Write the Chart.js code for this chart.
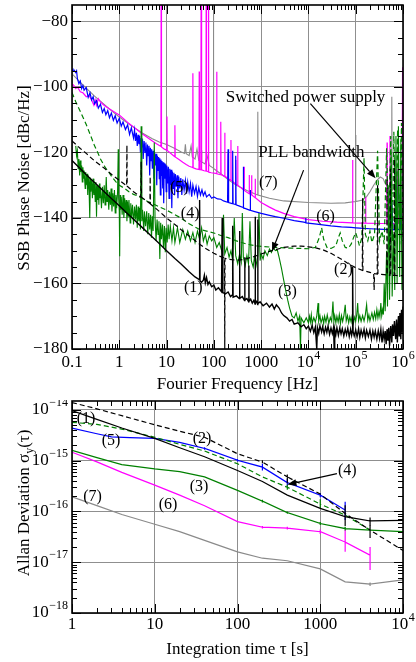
<!DOCTYPE html>
<html>
<head>
<meta charset="utf-8">
<script src="https://cdn.jsdelivr.net/npm/chart.js@4.4.1/dist/chart.umd.min.js"></script>
<style>
  body { margin: 0; background: #fff; }
  #wrap { position: relative; width: 416px; height: 662px; }
  canvas { position: absolute; left: 0; }
</style>
</head>
<body>
<div id="wrap">
  <canvas id="chart1" width="416" height="400" style="top:0"></canvas>
  <canvas id="chart2" width="416" height="262" style="top:400px"></canvas>
</div>
<script>
// ---------- phase noise data, [frequency Hz, dBc/Hz] ----------
const pn1 = [[0.1,-122.5],[0.15,-125],[0.2,-126.8],[0.3,-129.2],[0.5,-132.2],[0.7,-134.2],[1,-136.3],[1.5,-138.7],[2,-140.4],[3,-142.8],[5,-145.8],[7,-147.8],[10,-150],[15,-152.4],[20,-154],[30,-156.4],[40,-158],[49,-158.8],[50,-134.5],[51,-159.2],[55,-159.6],[60,-159],[63,-157.5],[66,-159.8],[70,-158.2],[75,-160.3],[80,-159.5],[90,-161],[100,-160.5],[110,-162],[125,-161.3],[145,-162.5],[150,-140],[155,-162.8],[175,-163.2],[200,-162.6],[225,-164],[245,-163.5],[250,-142.4],[255,-164.2],[300,-163.8],[345,-164.6],[350,-144],[355,-164.5],[400,-164],[445,-165.2],[450,-152],[455,-165],[500,-164.6],[545,-165.6],[550,-154.5],[555,-165.4],[600,-164.8],[650,-166],[700,-165.2],[745,-166.3],[750,-139.6],[755,-166],[800,-165.5],[845,-166.4],[850,-140.5],[855,-166.2],[950,-165.6],[1100,-166.8],[1300,-166],[1500,-167.2],[1700,-166.3],[1900,-167.8],[2100,-166.5],[2400,-167.5],[2700,-169],[3000,-169.8],[3500,-170.5],[4000,-171.5],[4500,-171],[5000,-172.4],[6000,-172],[7000,-173.2],[8000,-172.6],[9000,-173.8],[1e4,-173],[1.1e4,-174.6],[1.2e4,-172.8],[1.3e4,-175],[1.4e4,-173.3],[1.5e4,-180],[1.55e4,-173.5],[1.65e4,-175.2],[1.75e4,-172.9],[1.9e4,-174.8],[2e4,-173.2],[2.15e4,-175.4],[2.3e4,-173.4],[2.45e4,-174.9],[2.6e4,-173],[2.8e4,-175.5],[3e4,-173.6],[3.2e4,-175.3],[3.4e4,-173.4],[3.5e4,-180],[3.6e4,-174],[3.8e4,-175.6],[4e4,-173.5],[4.3e4,-175.8],[4.6e4,-173.6],[4.9e4,-175.4],[5.2e4,-173.8],[5.6e4,-176],[6e4,-174],[6.4e4,-175.6],[6.8e4,-173.7],[7.3e4,-176.2],[7.8e4,-174],[8.2e4,-175.8],[8.5e4,-174.5],[8.6e4,-155],[8.8e4,-174.6],[9.3e4,-176],[1e5,-174.2],[1.07e5,-176.3],[1.15e5,-173.8],[1.22e5,-176.5],[1.3e5,-174.2],[1.4e5,-176],[1.5e5,-174],[1.6e5,-176.6],[1.7e5,-174.3],[1.85e5,-176.2],[2e5,-174.2],[2.15e5,-177],[2.3e5,-174.5],[2.45e5,-176.4],[2.6e5,-174.5],[2.8e5,-177],[3e5,-174.4],[3.2e5,-176.8],[3.4e5,-174],[3.6e5,-178],[3.8e5,-174.6],[4e5,-177],[4.2e5,-174.5],[4.4e5,-178.5],[4.6e5,-174],[4.8e5,-177.5],[5e5,-173.5],[5.2e5,-179],[5.5e5,-173],[5.8e5,-178],[6e5,-172.5],[6.3e5,-176],[6.6e5,-171.5],[7e5,-177],[7.3e5,-171],[7.6e5,-178],[8e5,-170],[8.3e5,-176],[8.6e5,-169],[9e5,-177],[9.3e5,-168],[9.6e5,-175],[1e6,-167]];

const pn2 = [[0.1,-116.5],[0.15,-118.8],[0.2,-120.3],[0.3,-122.6],[0.5,-125],[0.7,-126.8],[1,-128.5],[1.43,-130.2],[1.45,-117.8],[1.47,-130.3],[2,-132],[2.85,-133.6],[2.9,-122.8],[2.95,-133.7],[4.45,-135.6],[4.5,-127.4],[4.55,-135.7],[7,-138],[10,-140],[15,-142],[20,-143.5],[30,-145.5],[50,-148],[70,-149.5],[100,-150.8],[140,-151.8],[168,-152.2],[170,-180],[172,-152.3],[200,-152.6],[300,-152.9],[400,-152.7],[500,-152.4],[700,-151.8],[1000,-151],[1500,-150.2],[2000,-149.7],[3000,-149],[5000,-148.6],[7000,-148.6],[1e4,-148.8],[1.5e4,-149.2],[2e4,-149.7],[3e4,-150.8],[5e4,-152.6],[7e4,-154],[1e5,-155.2],[1.38e5,-156],[1.4e5,-134],[1.42e5,-156],[2e5,-156.6],[2.4e5,-157],[2.45e5,-162],[2.5e5,-157],[2.85e5,-157.1],[2.9e5,-130],[2.95e5,-157.1],[4e5,-157.3],[4.55e5,-157.4],[4.6e5,-128],[4.65e5,-157.4],[5.3e5,-157.5],[5.4e5,-125],[5.5e5,-157.5],[6.5e5,-157.5],[6.6e5,-122],[6.7e5,-157.5],[8e5,-157.6],[1e6,-157.6]];

const pn3 = [[0.12,-118],[0.125,-121],[0.13,-119.5],[0.135,-125],[0.14,-122],[0.145,-127],[0.15,-122.5],[0.155,-126],[0.16,-124],[0.165,-129],[0.17,-124.5],[0.175,-128],[0.18,-125.5],[0.19,-131],[0.195,-126],[0.2,-130],[0.21,-126.5],[0.215,-133],[0.22,-127],[0.23,-131.5],[0.235,-127.5],[0.24,-140],[0.245,-128],[0.25,-132],[0.26,-128.5],[0.27,-134],[0.28,-128],[0.29,-133],[0.3,-129.5],[0.31,-135],[0.32,-129],[0.33,-139.6],[0.34,-130],[0.35,-134.5],[0.36,-130.5],[0.37,-136],[0.38,-129.5],[0.39,-134],[0.4,-131],[0.42,-137],[0.44,-130.5],[0.46,-135.5],[0.48,-130],[0.5,-136],[0.52,-131],[0.53,-127.5],[0.55,-135],[0.57,-131.5],[0.6,-137.5],[0.62,-132],[0.65,-136],[0.67,-131],[0.7,-138],[0.73,-132.5],[0.76,-136.5],[0.79,-131.5],[0.82,-138.5],[0.85,-133],[0.88,-137],[0.92,-132],[0.95,-119],[0.97,-134],[1,-138],[1.02,-151.7],[1.04,-133],[1.07,-137.5],[1.1,-133.5],[1.15,-139],[1.2,-133],[1.25,-140],[1.3,-134],[1.35,-138.5],[1.4,-134.5],[1.45,-141],[1.5,-135],[1.55,-139.5],[1.6,-134.5],[1.7,-141.5],[1.75,-135.5],[1.8,-140],[1.9,-136],[2,-142],[2.1,-136.5],[2.2,-140.5],[2.3,-136],[2.4,-143],[2.5,-136.5],[2.6,-141],[2.7,-137],[2.8,-143.5],[2.9,-112],[3,-141],[3.1,-137.5],[3.3,-144],[3.4,-138],[3.6,-142.5],[3.8,-138],[4,-145],[4.2,-138.5],[4.4,-143.5],[4.6,-139],[4.8,-146],[5,-139.5],[5.2,-144],[5.5,-117],[5.7,-140],[6,-147],[6.3,-140.5],[6.6,-145],[6.9,-141],[7.2,-152.5],[7.5,-141.5],[7.8,-146.5],[8.2,-142],[8.6,-149],[9,-142.5],[9.4,-150.5],[9.8,-143],[10.3,-147.5],[10.8,-142],[11.3,-146.5],[12,-142.5],[13,-147],[14,-143],[15,-147.5],[17,-143],[19,-147.5],[22,-143.5],[25,-146.5],[28,-144],[32,-147],[36,-144.5],[40,-147.5],[45,-144],[50,-146.5],[55,-143],[60,-147],[66,-145],[72,-148],[80,-145.5],[90,-147],[100,-146],[115,-149],[130,-147.5],[150,-150.5],[160,-139],[170,-151],[190,-149],[210,-152],[230,-150],[250,-153],[270,-140],[290,-151.5],[320,-154],[350,-151],[380,-153.5],[400,-138.5],[420,-152],[460,-154.5],[500,-151.5],[540,-154],[580,-141],[620,-153],[680,-155],[720,-152],[780,-154.5],[850,-151.5],[900,-138.5],[950,-153],[1000,-151],[1100,-152.5],[1200,-150],[1350,-151.5],[1500,-149.5],[1650,-150.5],[1800,-149],[2000,-150],[2200,-149.8],[2400,-152],[2700,-155.5],[3000,-159],[3300,-162],[3700,-165.5],[4000,-167.5],[4500,-170],[5000,-170.5],[5500,-169],[6000,-171.5],[6500,-170],[6800,-180],[7000,-170.5],[8000,-172],[9000,-170.5],[1e4,-172],[1.05e4,-170],[1.1e4,-171.8],[1.15e4,-169.5],[1.2e4,-172.2],[1.3e4,-170.4],[1.4e4,-171.8],[1.5e4,-170],[1.6e4,-166],[1.65e4,-171.5],[1.75e4,-169.8],[1.85e4,-172],[2e4,-170.3],[2.1e4,-172.3],[2.2e4,-170],[2.35e4,-171.8],[2.5e4,-169.6],[2.7e4,-172.2],[2.9e4,-170.4],[3.1e4,-171.6],[3.3e4,-165.5],[3.45e4,-171.5],[3.6e4,-169.8],[3.8e4,-172],[4e4,-170],[4.25e4,-171.8],[4.5e4,-169.5],[4.75e4,-172.3],[5e4,-169.8],[5.3e4,-171.6],[5.6e4,-170],[6e4,-166.5],[6.3e4,-171.4],[6.7e4,-169.8],[7.1e4,-172],[7.5e4,-170.2],[8e4,-171.8],[8.5e4,-169.5],[9e4,-172],[9.5e4,-170.3],[1e5,-171.5],[1.05e5,-169.5],[1.1e5,-166],[1.15e5,-171.4],[1.22e5,-169.8],[1.3e5,-171.6],[1.4e5,-169.8],[1.5e5,-171.5],[1.6e5,-169.5],[1.7e5,-166.5],[1.8e5,-171.2],[1.9e5,-169.6],[2e5,-171.4],[2.2e5,-169],[2.35e5,-171],[2.5e5,-168.8],[2.65e5,-170.8],[2.8e5,-168],[2.95e5,-170.5],[3.1e5,-168.6],[3.25e5,-170.2],[3.4e5,-166],[3.55e5,-169.8],[3.7e5,-168],[3.85e5,-169.5],[4e5,-160],[4.2e5,-168.5],[4.5e5,-150],[4.7e5,-167],[5e5,-130],[5.2e5,-165],[5.6e5,-120],[5.9e5,-164],[6.3e5,-145],[6.7e5,-162],[7.1e5,-115],[7.5e5,-160],[8e5,-112],[8.5e5,-158],[9e5,-116],[9.5e5,-162],[1e6,-150]];

const pn4 = [[0.1,-101.7],[0.12,-104.5],[0.15,-107.5],[0.18,-110],[0.2,-111.5],[0.25,-115],[0.3,-118],[0.35,-120],[0.4,-122],[0.5,-124.5],[0.6,-126],[0.7,-127.5],[0.85,-129],[1,-130],[1.3,-131],[1.6,-132],[2,-132.8],[2.5,-133.3],[3,-134],[4,-135],[5,-135.6],[7,-136.6],[10,-137.6],[15,-139],[20,-140],[30,-141.8],[50,-143.5],[70,-144],[100,-144.6],[150,-145.5],[200,-146],[300,-147],[500,-148],[700,-148.4],[1000,-148.7],[2000,-149],[4000,-149.2],[7000,-149.3],[1e4,-149.4],[1.4e4,-149],[1.7e4,-146],[1.9e4,-143],[2.1e4,-146.5],[2.5e4,-149.2],[3e4,-149.3],[3.8e4,-148.5],[4.3e4,-146],[4.7e4,-144.6],[5.2e4,-147],[6e4,-149],[7e4,-149.2],[8e4,-148],[9e4,-146],[1e5,-144.5],[1.1e5,-146.5],[1.2e5,-148.5],[1.35e5,-146],[1.5e5,-121.7],[1.6e5,-145],[1.8e5,-147],[2e5,-144],[2.2e5,-147.5],[2.5e5,-145],[2.9e5,-119.5],[3.2e5,-147],[3.6e5,-144],[4e5,-148],[4.5e5,-118.7],[5e5,-146],[5.5e5,-115],[6e5,-147],[6.4e5,-113.7],[7e5,-146],[7.7e5,-113],[8.5e5,-148],[9.3e5,-111],[1e6,-147]];

const pn5 = [[0.1,-94.5],[0.105,-95.3],[0.11,-94.8],[0.12,-95.6],[0.125,-95.1],[0.13,-97.5],[0.14,-99],[0.15,-98.2],[0.16,-100.5],[0.17,-99.6],[0.18,-101],[0.2,-100.2],[0.22,-103.2],[0.24,-101.8],[0.26,-104],[0.28,-103],[0.3,-105.2],[0.33,-104.2],[0.36,-106.5],[0.4,-105.3],[0.44,-107.8],[0.48,-106.6],[0.52,-108.5],[0.57,-107.2],[0.62,-109.4],[0.68,-108],[0.75,-110.2],[0.82,-108.8],[0.9,-111],[1,-109.6],[1.1,-112],[1.2,-110.7],[1.35,-113],[1.5,-111.6],[1.65,-114.5],[1.8,-112.5],[2,-115.6],[2.1,-113.2],[2.2,-116.5],[2.3,-114],[2.4,-118],[2.5,-114.6],[2.6,-117.5],[2.7,-115],[2.8,-120],[2.9,-115.6],[3,-118.5],[3.1,-116],[3.2,-122],[3.35,-116.5],[3.5,-120],[3.65,-117],[3.8,-124],[3.95,-117.6],[4.1,-121],[4.25,-118],[4.4,-127],[4.55,-118.6],[4.7,-122.5],[4.85,-119],[5,-125],[5.2,-119.5],[5.4,-128],[5.6,-120],[5.8,-124],[6,-120.4],[6.2,-130],[6.4,-121],[6.6,-125.5],[6.8,-121.4],[7,-128],[7.2,-121.8],[7.4,-133],[7.6,-122.2],[7.8,-127],[8,-122.6],[8.3,-131],[8.5,-123],[8.7,-135.5],[8.9,-123.3],[9.2,-128],[9.5,-123.6],[9.8,-132],[10.1,-124],[10.5,-129.5],[10.9,-124.4],[11.3,-134],[11.7,-125],[12.1,-130],[12.5,-125.3],[12.9,-137],[13.3,-125.8],[13.8,-131],[14.3,-126.2],[14.8,-133],[15.3,-126.6],[16,-130.5],[16.7,-127],[17.4,-134],[18.1,-127.4],[19,-131],[20,-127.8],[21,-133],[22,-128.2],[23.5,-131.5],[25,-128.6],[26.5,-132.6],[28,-129],[30,-132],[32,-129.5],[34,-133.5],[36,-130],[39,-132.5],[42,-130.4],[45,-133.4],[48,-130.8],[52,-133],[56,-131.4],[60,-133.2],[65,-132],[70,-133.6],[80,-132.8],[90,-134],[100,-133.6],[120,-134.2],[140,-134.3],[160,-134.8],[195,-135.2],[200,-119],[205,-135.3],[245,-135.6],[250,-119.5],[255,-135.7],[285,-135.9],[290,-121],[295,-136],[350,-136.4],[415,-136.8],[420,-124.4],[425,-136.9],[500,-137.3],[585,-137.7],[590,-131.5],[595,-137.7],[700,-138],[1000,-138.6],[1500,-139.2],[2000,-139.6],[3000,-140.1],[5000,-140.8],[8000,-141.3],[8700,-141.4],[8800,-140],[8900,-141.5],[1.5e4,-141.9],[2e4,-142.1],[3e4,-142.4],[5e4,-142.7],[8e4,-142.9],[1e5,-143],[1.5e5,-143.2],[2e5,-143.3],[3e5,-143.4],[4e5,-143.5],[5e5,-143.6],[5.5e5,-143.6],[5.8e5,-135],[6.1e5,-143.6],[7e5,-143.5],[7.3e5,-130],[7.6e5,-143.5],[8.5e5,-143.5],[8.8e5,-132],[9.1e5,-143.5],[1e6,-143.4]];

const pn6 = [[0.1,-99],[0.11,-99.6],[0.12,-100.5],[0.13,-100],[0.15,-101.5],[0.17,-101.8],[0.2,-103],[0.23,-102.6],[0.26,-104],[0.29,-105.6],[0.31,-104],[0.33,-105.6],[0.36,-103.6],[0.4,-104.6],[0.45,-105.3],[0.5,-105.8],[0.6,-106.6],[0.7,-107.2],[0.85,-108],[1,-108.6],[1.3,-110],[1.6,-111.2],[2,-112.2],[2.5,-113.3],[3,-114.2],[4,-115.5],[5,-116.5],[6,-117.3],[7.6,-118.2],[7.7,-60],[7.8,-118.3],[9,-119],[10.1,-119.3],[10.2,-109],[10.3,-119.4],[12,-120.2],[14.8,-121.3],[15,-111.7],[15.2,-121.4],[18,-122.1],[22,-123],[26,-123.7],[30,-124.2],[35.5,-124.6],[36,-95.8],[36.5,-124.7],[42,-125],[48.5,-125.2],[49,-95.3],[49.5,-125.2],[53,-125.3],[54,-60],[55,-125.3],[62,-125.6],[68,-125.7],[69,-60],[70,-125.7],[76,-125.9],[77,-60],[78,-126],[88,-126.2],[110,-126.4],[114,-126.5],[115,-95.4],[116,-126.5],[138,-126.8],[140,-110.6],[142,-126.8],[168,-127.3],[170,-114],[172,-127.3],[198,-127.9],[200,-120.3],[202,-128],[228,-128.5],[230,-116.2],[232,-128.5],[288,-129.6],[290,-122.3],[292,-129.6],[318,-130],[320,-118],[322,-130],[438,-131.6],[440,-124.4],[442,-131.6],[555,-132.6],[560,-126.9],[565,-132.6],[625,-133],[630,-127],[635,-133],[745,-133.8],[750,-128],[755,-133.8],[1000,-135.3],[1500,-136.7],[2000,-137.6],[3000,-138.6],[5000,-139.6],[1e4,-140.5],[2e4,-141],[4e4,-141.3],[8.5e4,-141.5],[8.6e4,-122.3],[8.7e4,-141.5],[1.2e5,-141.6],[1.6e5,-141.6],[1.62e5,-133.5],[1.64e5,-141.6],[3e5,-141.7],[4.55e5,-141.7],[4.6e5,-117],[4.65e5,-141.7],[5.25e5,-141.7],[5.3e5,-115],[5.35e5,-141.7],[7e5,-141.7],[7.5e5,-125],[8e5,-141.7],[9.5e5,-141.7],[9.8e5,-94],[1e6,-110]];

const pn7 = [[0.1,-96],[0.15,-98.6],[0.2,-100.4],[0.3,-102.8],[0.5,-105.6],[0.7,-107.4],[1,-109.2],[1.5,-111],[2,-112.3],[3,-114],[5,-115.8],[7,-116.8],[10,-117.6],[15,-118.8],[20,-119.8],[24,-120.3],[25,-117.5],[26,-120.4],[30,-121],[33,-118],[35,-121.4],[40,-122],[44,-119],[48,-122.4],[54,-122.8],[55,-119.3],[56,-122.9],[65,-123.5],[72,-121],[80,-124],[97,-124.8],[98,-60],[99,-124.9],[120,-125.8],[150,-126.8],[200,-128.3],[300,-130],[500,-131.6],[840,-133],[850,-107.6],[860,-133],[1500,-134],[3000,-134.8],[1e4,-135.3],[3e4,-135.5],[6e4,-135.4],[9.9e4,-135],[1e5,-114.7],[1.01e5,-135],[1.4e5,-134.5],[1.7e5,-133.5],[2e5,-132],[2.4e5,-130],[2.8e5,-128.5],[3.3e5,-127.5],[3.8e5,-128],[4.2e5,-129.5],[5e5,-131],[5.7e5,-131.5],[5.8e5,-103],[5.9e5,-131.5],[7e5,-131],[8e5,-130],[1e6,-129]];

// ---------- Allan deviation data, [tau s, sigma] (repeated tau = error bar) ----------
const ad1 = [[1,9.7e-15],[2,6.5e-15],[4,4.4e-15],[10,2.75e-15],[20,1.8e-15],[40,1.2e-15],[100,6.4e-16],[200,3.9e-16],[400,2.1e-16],[1000,1.15e-16],[2000,7.9e-17],[2000,1.32e-16],[2000,5.2e-17],[2000,7.9e-17],[4000,6.5e-17],[4000,7.6e-17],[4000,5.2e-17],[4000,6.5e-17],[10000,6.7e-17]];
const ad2 = [[1,1.4e-14],[2,1.05e-14],[4,7.7e-15],[10,5.1e-15],[20,3.8e-15],[40,2.9e-15],[100,1.37e-15],[200,9.4e-16],[200,1.02e-15],[200,8.8e-16],[200,9.4e-16],[400,4.8e-16],[400,5.6e-16],[400,3.6e-16],[400,4.8e-16],[1000,2.2e-16],[2000,9.1e-17],[4000,4.3e-17],[4000,5.5e-17],[4000,3.0e-17],[4000,4.3e-17],[10000,1.7e-17]];
const ad3 = [[1,1.6e-15],[2,1.15e-15],[4,8.4e-16],[10,6.9e-16],[20,6.1e-16],[40,4.8e-16],[100,2.6e-16],[200,1.6e-16],[200,1.7e-16],[200,1.5e-16],[200,1.6e-16],[400,9.5e-17],[400,1.0e-16],[400,9e-17],[400,9.5e-17],[1000,5.8e-17],[1000,6.2e-17],[1000,5.4e-17],[1000,5.8e-17],[2000,4.6e-17],[2000,5.0e-17],[2000,4.2e-17],[2000,4.6e-17],[4000,4.3e-17],[10000,4e-17]];
const ad4 = [[1,5.7e-15],[2,5.2e-15],[4,4.2e-15],[10,2.9e-15],[20,2.1e-15],[40,1.55e-15],[100,8.7e-16],[200,4.8e-16],[400,3.0e-16],[400,3.6e-16],[400,2.5e-16],[400,3e-16],[1000,1.4e-16],[1000,1.75e-16],[1000,1.1e-16],[1000,1.4e-16],[2000,8.5e-17],[4000,4.3e-17]];
const ad5 = [[1,4.4e-15],[2,3.4e-15],[3,2.95e-15],[5,2.85e-15],[10,2.75e-15],[20,2.3e-15],[40,1.75e-15],[40,1.85e-15],[40,1.65e-15],[40,1.75e-15],[100,1.02e-15],[100,1.08e-15],[100,9.6e-16],[100,1.02e-15],[200,7.5e-16],[200,8.7e-16],[200,6.4e-16],[200,7.5e-16],[400,3.7e-16],[400,4.4e-16],[400,3.1e-16],[400,3.7e-16],[1000,2.1e-16],[1000,2.3e-16],[1000,1.9e-16],[1000,2.1e-16],[2000,1.07e-16],[2000,1.55e-16],[2000,6.8e-17],[2000,1.07e-16]];
const ad6 = [[1,1.47e-15],[2,9.5e-16],[4,5.9e-16],[10,3.3e-16],[20,2.1e-16],[40,1.3e-16],[100,6.3e-17],[200,4.9e-17],[200,5.2e-17],[200,4.6e-17],[200,4.9e-17],[400,4.7e-17],[400,5.0e-17],[400,4.4e-17],[400,4.7e-17],[1000,4.0e-17],[1000,4.4e-17],[1000,3.6e-17],[1000,4.0e-17],[2000,2.5e-17],[2000,4.3e-17],[2000,1.6e-17],[2000,2.5e-17],[4000,1.38e-17],[4000,2.0e-17],[4000,7e-18],[4000,1.38e-17]];
const ad7 = [[1,1.94e-16],[2,1.3e-16],[4,8.7e-17],[10,5.6e-17],[20,4e-17],[40,2.7e-17],[100,1.6e-17],[200,1.2e-17],[400,1.07e-17],[1000,7.4e-18],[2000,4.1e-18],[4000,3.7e-18],[4000,4.0e-18],[4000,3.4e-18],[4000,3.7e-18],[10000,4.5e-18]];

// ---------- axes ----------
const xTopTicks = [0.1, 1, 10, 100, 1000, 1e4, 1e5, 1e6];
const xTopLabels = ['0.1', '1', '10', '100', '1000', '10^4', '10^5', '10^6'];
const yTopTicks = [-180, -160, -140, -120, -100, -80];
const yTopLabels = ['\u2212180', '\u2212160', '\u2212140', '\u2212120', '\u2212100', '\u221280'];
const xBotTicks = [1, 10, 100, 1000, 1e4];
const xBotLabels = ['1', '10', '100', '1000', '10^4'];
const yBotTicks = [1e-18, 1e-17, 1e-16, 1e-15, 1e-14];
const yBotLabels = ['10^\u221218', '10^\u221217', '10^\u221216', '10^\u221215', '10^\u221214'];

const topNotes = [
  { t: '(1)', x: 36.6, y: -161.3 }, { t: '(2)', x: 5.5e4, y: -155.8 },
  { t: '(3)', x: 3590, y: -162.5 }, { t: '(4)', x: 31.6, y: -138.8 },
  { t: '(5)', x: 18.5, y: -130.8 }, { t: '(6)', x: 2.3e4, y: -139.7 },
  { t: '(7)', x: 1420, y: -129.3 },
  { t: 'Switched power supply', x: 8.7e3, y: -103.1 },
  { t: 'PLL bandwidth', x: 1.15e4, y: -119.9 }
];
const topArrows = [
  { from: [1.1e4, -105.1], to: [2.63e5, -127.9] },
  { from: [7.9e3, -125.4], to: [1.7e3, -150.2] }
];
const botNotes = [
  { t: '(1)', x: 1.48, y: 6.6e-15 }, { t: '(2)', x: 37.3, y: 2.7e-15 },
  { t: '(3)', x: 34.3, y: 3.1e-16 }, { t: '(4)', x: 2120, y: 6.4e-16 },
  { t: '(5)', x: 2.96, y: 2.5e-15 }, { t: '(6)', x: 14.5, y: 1.38e-16 },
  { t: '(7)', x: 1.77, y: 1.95e-16 }
];
const botArrows = [{ from: [1590, 5.56e-16], to: [401, 3.4e-16] }];

const serif = '"Liberation Serif", "Times New Roman", serif';
const BLUE = '#0000ff', MAGENTA = '#ff00ff', GREEN = '#008000', GRAY = '#8a8a8a';

function line(data, color, dashed, width) {
  return {
    data: data, borderColor: color, borderWidth: width || 1,
    borderDash: dashed ? [5, 3] : [], pointRadius: 0, tension: 0, fill: false
  };
}

function decadeMinor(lo, hi) {
  const out = [];
  for (let d = lo; d < hi * 0.999; d *= 10) {
    for (let m = 2; m <= 9; m++) if (d * m <= hi) out.push(d * m);
  }
  return out;
}

function drawPow(ctx, text, x, y, align) {
  const parts = text.split('^');
  ctx.font = '17px ' + serif;
  const wb = ctx.measureText(parts[0]).width;
  let we = 0;
  if (parts[1]) { ctx.font = '12px ' + serif; we = ctx.measureText(parts[1]).width + 0.5; }
  const x0 = align === 'right' ? x - wb - we : x - (wb + we) / 2;
  ctx.textAlign = 'left';
  ctx.textBaseline = 'middle';
  ctx.font = '17px ' + serif;
  ctx.fillText(parts[0], x0, y);
  if (parts[1]) { ctx.font = '12px ' + serif; ctx.fillText(parts[1], x0 + wb + 0.5, y - 7); }
}

function arrow(ctx, x1, y1, x2, y2) {
  const ang = Math.atan2(y2 - y1, x2 - x1);
  const hl = 9, hw = 3.5;
  ctx.beginPath();
  ctx.moveTo(x1, y1);
  ctx.lineTo(x2 - hl * Math.cos(ang), y2 - hl * Math.sin(ang));
  ctx.lineWidth = 1.2;
  ctx.stroke();
  ctx.beginPath();
  ctx.moveTo(x2, y2);
  ctx.lineTo(x2 - hl * Math.cos(ang) + hw * Math.sin(ang), y2 - hl * Math.sin(ang) - hw * Math.cos(ang));
  ctx.lineTo(x2 - hl * Math.cos(ang) - hw * Math.sin(ang), y2 - hl * Math.sin(ang) + hw * Math.cos(ang));
  ctx.closePath();
  ctx.fill();
}

// frame, inward ticks, tick labels, notes
function decorate(opts) {
  return {
    id: 'decorate',
    afterDraw(chart) {
      const { ctx, chartArea: a } = chart;
      const xs = chart.scales.x, ys = chart.scales.y;
      ctx.save();
      ctx.strokeStyle = '#000';
      ctx.fillStyle = '#000';
      ctx.lineWidth = 1;
      ctx.beginPath();
      opts.xMinor.forEach(v => {
        const px = Math.round(xs.getPixelForValue(v)) + 0.5;
        ctx.moveTo(px, a.bottom); ctx.lineTo(px, a.bottom - 5);
        ctx.moveTo(px, a.top); ctx.lineTo(px, a.top + 5);
      });
      opts.xTicks.forEach(v => {
        const px = Math.round(xs.getPixelForValue(v)) + 0.5;
        ctx.moveTo(px, a.bottom); ctx.lineTo(px, a.bottom - 9);
        ctx.moveTo(px, a.top); ctx.lineTo(px, a.top + 9);
      });
      opts.yMinor.forEach(v => {
        const py = Math.round(ys.getPixelForValue(v)) + 0.5;
        ctx.moveTo(a.left, py); ctx.lineTo(a.left + 5, py);
        ctx.moveTo(a.right, py); ctx.lineTo(a.right - 5, py);
      });
      opts.yTicks.forEach(v => {
        const py = Math.round(ys.getPixelForValue(v)) + 0.5;
        ctx.moveTo(a.left, py); ctx.lineTo(a.left + 9, py);
        ctx.moveTo(a.right, py); ctx.lineTo(a.right - 9, py);
      });
      ctx.stroke();
      ctx.lineWidth = 1.6;
      ctx.strokeRect(a.left, a.top, a.right - a.left, a.bottom - a.top);

      opts.xTicks.forEach((v, i) => drawPow(ctx, opts.xLabels[i], xs.getPixelForValue(v), a.bottom + opts.xLabelGap, 'center'));
      opts.yTicks.forEach((v, i) => drawPow(ctx, opts.yLabels[i], a.left - 4, ys.getPixelForValue(v), 'right'));

      ctx.font = '17px ' + serif;
      ctx.textAlign = 'center';
      ctx.textBaseline = 'middle';
      ctx.fillText(opts.xTitle, (a.left + a.right) / 2, a.bottom + opts.xTitleGap);
      ctx.save();
      ctx.translate(25, opts.yTitleY);
      ctx.rotate(-Math.PI / 2);
      opts.yTitle(ctx);
      ctx.restore();

      opts.notes.forEach(n => {
        ctx.font = (n.t.length > 3 ? '17px ' : '16px ') + serif;
        ctx.textAlign = 'center';
        ctx.textBaseline = 'middle';
        ctx.fillText(n.t, xs.getPixelForValue(n.x), ys.getPixelForValue(n.y));
      });
      opts.arrows.forEach(ar => arrow(ctx,
        xs.getPixelForValue(ar.from[0]), ys.getPixelForValue(ar.from[1]),
        xs.getPixelForValue(ar.to[0]), ys.getPixelForValue(ar.to[1])));
      ctx.restore();
    }
  };
}

function axis(type, min, max, ticks, fitKey) {
  return {
    type: type, min: min, max: max,
    afterBuildTicks: s => { s.ticks = ticks.map(v => ({ value: v })); },
    afterFit: s => { s[fitKey] = 0; },
    ticks: { display: false },
    grid: { color: '#8f8f8f', lineWidth: 1, drawTicks: false },
    border: { display: false }
  };
}

// chart phase noise
new Chart(document.getElementById('chart1'), {
  type: 'line',
  data: {
    datasets: [
      line(pn1, '#000', false, 1.4),
      line(pn2, '#000', true, 1.2),
      line(pn3, GREEN, false, 1.1),
      line(pn4, GREEN, true, 1.2),
      line(pn5, BLUE, false, 1.2),
      line(pn6, MAGENTA, false, 1.2),
      line(pn7, GRAY, false, 1.1)
    ]
  },
  plugins: [decorate({
    xMinor: decadeMinor(0.1, 1e6), xTicks: xTopTicks, xLabels: xTopLabels,
    yMinor: [-175, -170, -165, -155, -150, -145, -135, -130, -125, -115, -110, -105, -95, -90, -85],
    yTicks: yTopTicks, yLabels: yTopLabels,
    xLabelGap: 14, xTitleGap: 36, yTitleY: 178,
    xTitle: 'Fourier Frequency [Hz]',
    yTitle: ctx => { ctx.font = '17px ' + serif; ctx.textAlign = 'center'; ctx.textBaseline = 'middle'; ctx.fillText('SSB Phase Noise [dBc/Hz]', 0, 0); },
    notes: topNotes, arrows: topArrows
  })],
  options: {
    responsive: false,
    animation: false,
    layout: { padding: { left: 72, right: 13, top: 5, bottom: 51 } },
    plugins: { legend: { display: false }, tooltip: { enabled: false } },
    scales: {
      x: axis('logarithmic', 0.1, 1e6, xTopTicks, 'height'),
      y: axis('linear', -180, -75, yTopTicks, 'width')
    }
  }
});

// chart allan deviation
new Chart(document.getElementById('chart2'), {
  type: 'line',
  data: {
    datasets: [
      line(ad1, '#000', false, 1.2),
      line(ad2, '#000', true, 1.2),
      line(ad3, GREEN, false, 1.2),
      line(ad4, GREEN, true, 1.2),
      line(ad5, BLUE, false, 1.2),
      line(ad6, MAGENTA, false, 1.2),
      line(ad7, GRAY, false, 1.2)
    ]
  },
  plugins: [decorate({
    xMinor: decadeMinor(1, 1e4), xTicks: xBotTicks, xLabels: xBotLabels,
    yMinor: decadeMinor(1e-18, 1.5e-14), yTicks: yBotTicks, yLabels: yBotLabels,
    xLabelGap: 12, xTitleGap: 37, yTitleY: 103,
    xTitle: 'Integration time \u03c4 [s]',
    yTitle: ctx => {
      ctx.textBaseline = 'middle';
      ctx.textAlign = 'left';
      const a = 'Allan Deviation \u03c3', b = 'y', c = '(\u03c4)';
      ctx.font = '17px ' + serif;
      const wa = ctx.measureText(a).width, wc = ctx.measureText(c).width;
      ctx.font = '12px ' + serif;
      const wb = ctx.measureText(b).width;
      let x0 = -(wa + wb + wc) / 2;
      ctx.font = '17px ' + serif;
      ctx.fillText(a, x0, 0);
      ctx.font = '12px ' + serif;
      ctx.fillText(b, x0 + wa, 5);
      ctx.font = '17px ' + serif;
      ctx.fillText(c, x0 + wa + wb, 0);
    },
    notes: botNotes, arrows: botArrows
  })],
  options: {
    responsive: false,
    animation: false,
    layout: { padding: { left: 72, right: 13, top: 1, bottom: 49 } },
    plugins: { legend: { display: false }, tooltip: { enabled: false } },
    scales: {
      x: axis('logarithmic', 1, 1e4, xBotTicks, 'height'),
      y: axis('logarithmic', 1e-18, 1.5e-14, yBotTicks, 'width')
    }
  }
});
</script>
</body>
</html>
